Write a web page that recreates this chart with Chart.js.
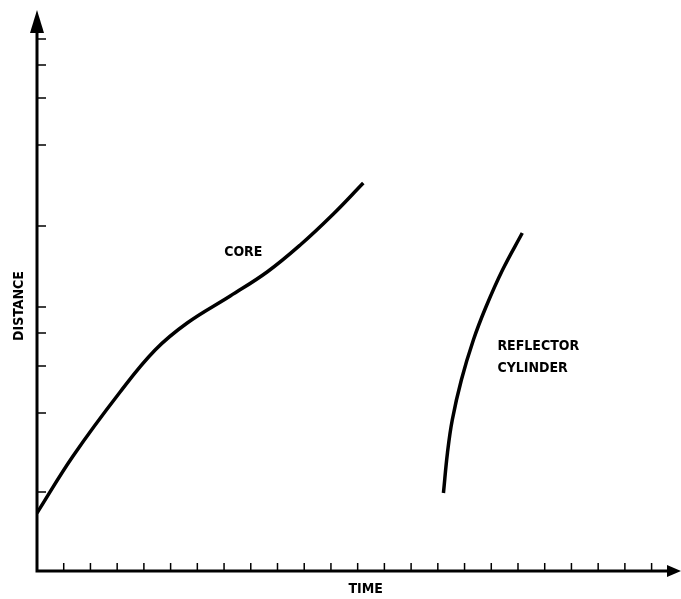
<!DOCTYPE html>
<html>
<head>
<meta charset="utf-8">
<script src="https://cdn.jsdelivr.net/npm/chart.js@4"></script>
<style>
  html, body { margin: 0; padding: 0; background: #fff; }
  #wrap { width: 681px; height: 599px; }
</style>
</head>
<body>
<div id="wrap"><canvas id="c" width="681" height="599"></canvas></div>
<script>
// time on x (one unit per tick), distance on y (arbitrary units)
const coreTime = [0, 1.35, 3.11, 4.42, 5.62, 7.23, 8.61, 9.85, 11.09, 12.21];
const coreDist = [5.8, 11.5, 17.9, 22.1, 24.8, 27.5, 29.9, 32.6, 35.7, 38.8];
const reflTime = [15.21, 15.36, 15.54, 15.88, 16.33, 16.8, 17.42, 18.16];
const reflDist = [7.8, 11.8, 15.1, 19.1, 23.1, 26.4, 30.1, 33.8];
const timeTicks = [1, 2, 3, 4, 5, 6, 7, 8, 9, 10, 11, 12, 13, 14, 15, 16, 17, 18, 19, 20, 21, 22, 23];
const distTicks = [7.9, 15.8, 20.5, 23.8, 26.4, 34.5, 42.6, 47.3, 50.6, 53.2];

const pts = (xs, ys) => xs.map((x, i) => ({x: x, y: ys[i]}));
const FONT = "bold 14px 'Liberation Sans Narrow', 'DejaVu Sans Condensed', Arial, sans-serif";

// axes with inward ticks and arrowheads, plus the hand lettering
const sketchAxes = {
  id: "sketchAxes",
  afterDatasetsDraw(chart) {
    const {ctx, chartArea: a, scales: {x, y}} = chart;
    ctx.save();
    ctx.strokeStyle = "#000";
    ctx.fillStyle = "#000";
    ctx.lineCap = "butt";

    // axis lines
    ctx.lineWidth = 3;
    ctx.beginPath();
    ctx.moveTo(a.left, a.top + 18);
    ctx.lineTo(a.left, a.bottom);
    ctx.lineTo(a.right - 10, a.bottom);
    ctx.stroke();

    // arrowheads
    ctx.beginPath();
    ctx.moveTo(a.left, a.top);
    ctx.lineTo(a.left - 7, a.top + 23);
    ctx.lineTo(a.left + 7, a.top + 23);
    ctx.closePath();
    ctx.fill();
    ctx.beginPath();
    ctx.moveTo(a.right, a.bottom);
    ctx.lineTo(a.right - 14, a.bottom - 6);
    ctx.lineTo(a.right - 14, a.bottom + 6);
    ctx.closePath();
    ctx.fill();

    // tick marks
    ctx.lineWidth = 1.5;
    ctx.beginPath();
    timeTicks.forEach((t) => {
      const px = x.getPixelForValue(t);
      ctx.moveTo(px, a.bottom);
      ctx.lineTo(px, a.bottom - 8);
    });
    distTicks.forEach((d) => {
      const py = y.getPixelForValue(d);
      ctx.moveTo(a.left, py);
      ctx.lineTo(a.left + 9, py);
    });
    ctx.stroke();

    // text
    ctx.font = FONT;
    ctx.textBaseline = "middle";
    ctx.textAlign = "center";
    ctx.fillText("CORE", x.getPixelForValue(7.72), y.getPixelForValue(31.9));
    ctx.fillText("TIME", x.getPixelForValue(12.3), a.bottom + 18);
    ctx.textAlign = "left";
    ctx.fillText("REFLECTOR", x.getPixelForValue(17.23), y.getPixelForValue(22.5));
    ctx.fillText("CYLINDER", x.getPixelForValue(17.23), y.getPixelForValue(20.3));

    ctx.translate(a.left - 18, y.getPixelForValue(26.5));
    ctx.rotate(-Math.PI / 2);
    ctx.textAlign = "center";
    ctx.fillText("DISTANCE", 0, 0);
    ctx.restore();
  },
};

const line = (data) => ({
  data: data,
  borderColor: "#000",
  borderWidth: 3.5,
  pointRadius: 0,
  fill: false,
  tension: 0.4,
});

new Chart(document.getElementById("c"), {
  type: "line",
  data: {
    datasets: [line(pts(coreTime, coreDist)), line(pts(reflTime, reflDist))],
  },
  options: {
    responsive: false,
    animation: false,
    devicePixelRatio: 1,
    layout: { padding: { left: 37, top: 10, right: 0, bottom: 28 } },
    plugins: { legend: { display: false }, tooltip: { enabled: false } },
    scales: {
      x: { type: "linear", min: 0, max: 24.1, display: false },
      y: { type: "linear", min: 0, max: 56.1, display: false },
    },
  },
  plugins: [sketchAxes],
});
</script>
</body>
</html>
